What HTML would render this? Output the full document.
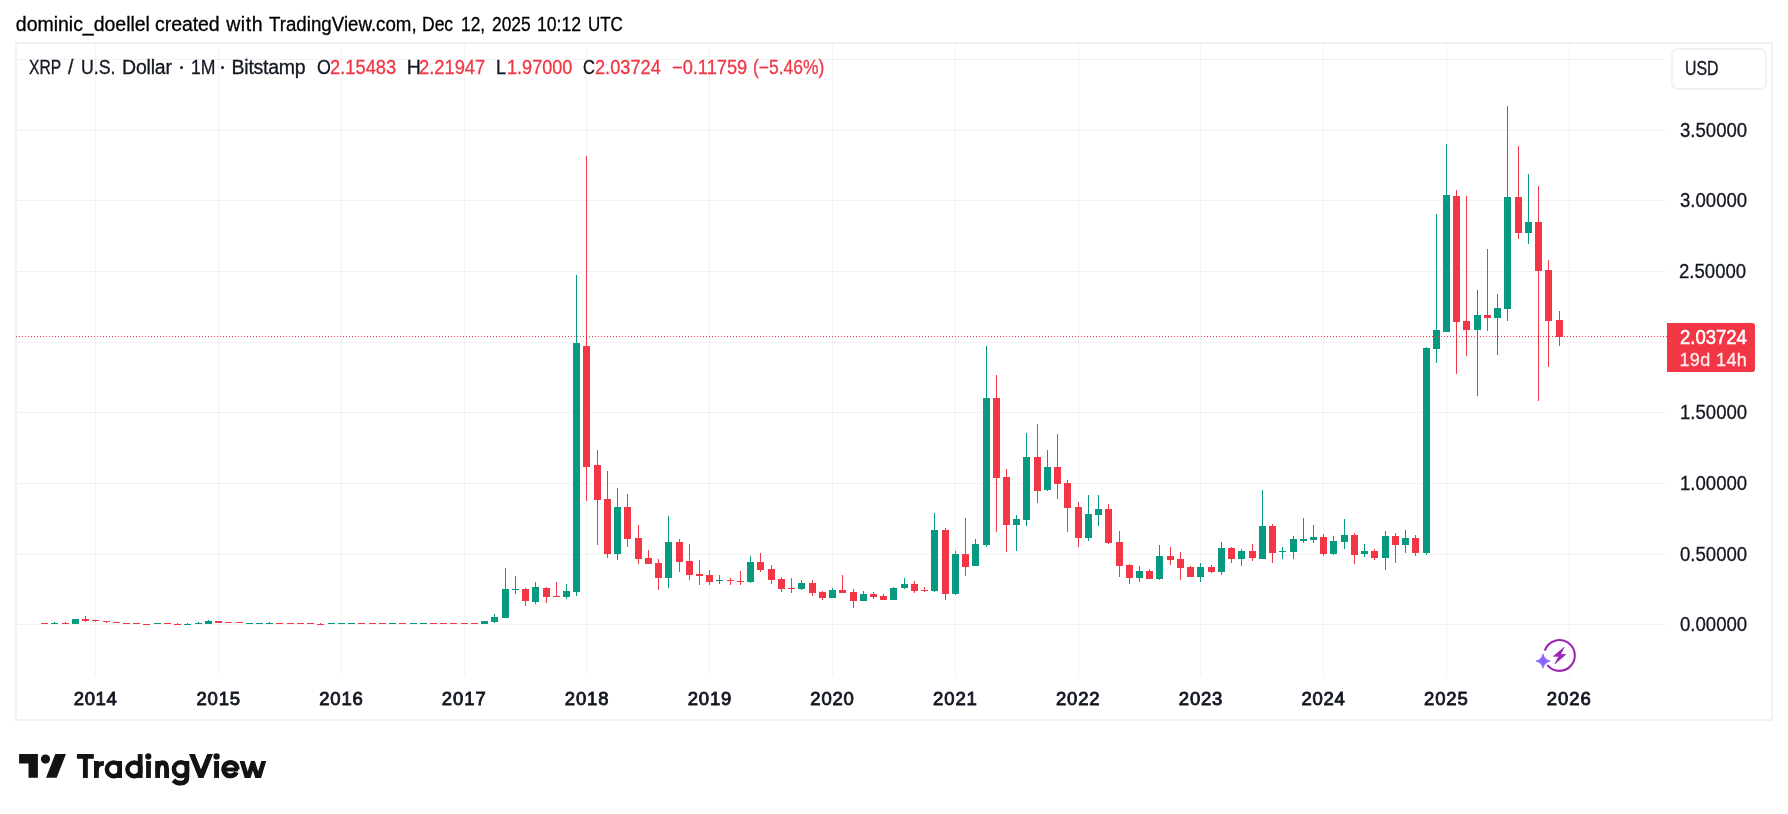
<!DOCTYPE html>
<html><head><meta charset="utf-8"><title>XRP / U.S. Dollar</title>
<style>
html,body{margin:0;padding:0;background:#fff;}
body{width:1788px;height:814px;position:relative;overflow:hidden;font-family:"Liberation Sans",sans-serif;color:#131722;}
.t{position:absolute;white-space:nowrap;line-height:1;font-size:19.5px;transform-origin:0 0;-webkit-text-stroke:0.3px currentColor;}
#txt{position:absolute;left:0;top:0;width:1788px;height:814px;will-change:transform;}
.r{color:#f23645;}
.dot{position:absolute;width:3.3px;height:3.3px;border-radius:50%;background:#131722;}
.b{font-weight:bold;-webkit-text-stroke:0;}
.sb{-webkit-text-stroke:0.85px currentColor;}
.w1{-webkit-text-stroke:0.55px currentColor;}
#frame{position:absolute;left:15px;top:42px;width:1754px;height:675px;border:2px solid #f1f3f3;}
#usd{position:absolute;left:1671px;top:48px;width:92px;height:38px;border:2px solid #f0f3f3;border-radius:7px;background:#fff;}
#plabel{position:absolute;left:1667px;top:323px;width:88px;height:49px;background:#f23645;border-radius:0 3px 3px 0;}
</style></head><body>
<div id="frame"></div>
<svg width="1788" height="814" viewBox="0 0 1788 814" style="position:absolute;left:0;top:0" shape-rendering="crispEdges">
<g id="grid"><rect x="17" y="59" width="1649" height="1" fill="rgba(40,48,50,0.06)"/><rect x="17" y="130" width="1649" height="1" fill="rgba(40,48,50,0.06)"/><rect x="17" y="200" width="1649" height="1" fill="rgba(40,48,50,0.06)"/><rect x="17" y="271" width="1649" height="1" fill="rgba(40,48,50,0.06)"/><rect x="17" y="342" width="1649" height="1" fill="rgba(40,48,50,0.06)"/><rect x="17" y="412" width="1649" height="1" fill="rgba(40,48,50,0.06)"/><rect x="17" y="483" width="1649" height="1" fill="rgba(40,48,50,0.06)"/><rect x="17" y="554" width="1649" height="1" fill="rgba(40,48,50,0.06)"/><rect x="17" y="624" width="1649" height="1" fill="rgba(40,48,50,0.06)"/><rect x="95" y="44" width="1" height="632" fill="rgba(40,48,50,0.06)"/><rect x="218" y="44" width="1" height="632" fill="rgba(40,48,50,0.06)"/><rect x="341" y="44" width="1" height="632" fill="rgba(40,48,50,0.06)"/><rect x="464" y="44" width="1" height="632" fill="rgba(40,48,50,0.06)"/><rect x="586" y="44" width="1" height="632" fill="rgba(40,48,50,0.06)"/><rect x="709" y="44" width="1" height="632" fill="rgba(40,48,50,0.06)"/><rect x="832" y="44" width="1" height="632" fill="rgba(40,48,50,0.06)"/><rect x="955" y="44" width="1" height="632" fill="rgba(40,48,50,0.06)"/><rect x="1078" y="44" width="1" height="632" fill="rgba(40,48,50,0.06)"/><rect x="1200" y="44" width="1" height="632" fill="rgba(40,48,50,0.06)"/><rect x="1323" y="44" width="1" height="632" fill="rgba(40,48,50,0.06)"/><rect x="1446" y="44" width="1" height="632" fill="rgba(40,48,50,0.06)"/><rect x="1569" y="44" width="1" height="632" fill="rgba(40,48,50,0.06)"/></g>
<g id="candles"><rect x="41" y="623" width="7" height="1" fill="#f23645"/><rect x="54" y="622" width="1" height="2" fill="#089981"/><rect x="51" y="623" width="7" height="1" fill="#089981"/><rect x="65" y="622" width="1" height="2" fill="#f23645"/><rect x="62" y="623" width="7" height="1" fill="#f23645"/><rect x="72" y="619" width="7" height="5" fill="#089981"/><rect x="85" y="616" width="1" height="6" fill="#f23645"/><rect x="82" y="619" width="7" height="2" fill="#f23645"/><rect x="95" y="620" width="1" height="2" fill="#f23645"/><rect x="92" y="620" width="7" height="1" fill="#f23645"/><rect x="106" y="621" width="1" height="2" fill="#f23645"/><rect x="103" y="621" width="7" height="1" fill="#f23645"/><rect x="113" y="622" width="7" height="1" fill="#f23645"/><rect x="123" y="623" width="7" height="1" fill="#f23645"/><rect x="133" y="623" width="7" height="1" fill="#f23645"/><rect x="143" y="624" width="7" height="1" fill="#f23645"/><rect x="154" y="623" width="7" height="1" fill="#089981"/><rect x="164" y="623" width="7" height="1" fill="#f23645"/><rect x="177" y="623" width="1" height="2" fill="#f23645"/><rect x="174" y="624" width="7" height="1" fill="#f23645"/><rect x="187" y="623" width="1" height="2" fill="#089981"/><rect x="184" y="624" width="7" height="1" fill="#089981"/><rect x="198" y="622" width="1" height="2" fill="#089981"/><rect x="195" y="623" width="7" height="1" fill="#089981"/><rect x="208" y="620" width="1" height="4" fill="#089981"/><rect x="205" y="621" width="7" height="3" fill="#089981"/><rect x="215" y="621" width="7" height="2" fill="#f23645"/><rect x="225" y="622" width="7" height="1" fill="#f23645"/><rect x="236" y="622" width="7" height="1" fill="#f23645"/><rect x="246" y="623" width="7" height="1" fill="#089981"/><rect x="256" y="623" width="7" height="1" fill="#089981"/><rect x="269" y="622" width="1" height="2" fill="#089981"/><rect x="266" y="623" width="7" height="1" fill="#089981"/><rect x="276" y="623" width="7" height="1" fill="#f23645"/><rect x="287" y="623" width="7" height="1" fill="#f23645"/><rect x="297" y="623" width="7" height="1" fill="#f23645"/><rect x="307" y="623" width="7" height="1" fill="#f23645"/><rect x="320" y="623" width="1" height="2" fill="#f23645"/><rect x="317" y="624" width="7" height="1" fill="#f23645"/><rect x="328" y="623" width="7" height="1" fill="#089981"/><rect x="338" y="623" width="7" height="1" fill="#089981"/><rect x="348" y="623" width="7" height="1" fill="#089981"/><rect x="358" y="623" width="7" height="1" fill="#f23645"/><rect x="369" y="623" width="7" height="1" fill="#f23645"/><rect x="379" y="623" width="7" height="1" fill="#f23645"/><rect x="389" y="623" width="7" height="1" fill="#089981"/><rect x="399" y="623" width="7" height="1" fill="#f23645"/><rect x="410" y="623" width="7" height="1" fill="#089981"/><rect x="420" y="623" width="7" height="1" fill="#089981"/><rect x="430" y="623" width="7" height="1" fill="#f23645"/><rect x="440" y="623" width="7" height="1" fill="#f23645"/><rect x="450" y="623" width="7" height="1" fill="#f23645"/><rect x="461" y="623" width="7" height="1" fill="#f23645"/><rect x="471" y="623" width="7" height="1" fill="#f23645"/><rect x="481" y="621" width="7" height="3" fill="#089981"/><rect x="494" y="614" width="1" height="9" fill="#089981"/><rect x="491" y="617" width="7" height="5" fill="#089981"/><rect x="505" y="568" width="1" height="50" fill="#089981"/><rect x="502" y="589" width="7" height="29" fill="#089981"/><rect x="515" y="576" width="1" height="18" fill="#089981"/><rect x="512" y="589" width="7" height="1" fill="#089981"/><rect x="525" y="588" width="1" height="18" fill="#f23645"/><rect x="522" y="589" width="7" height="12" fill="#f23645"/><rect x="535" y="582" width="1" height="22" fill="#089981"/><rect x="532" y="587" width="7" height="15" fill="#089981"/><rect x="546" y="587" width="1" height="16" fill="#f23645"/><rect x="543" y="588" width="7" height="9" fill="#f23645"/><rect x="556" y="582" width="1" height="15" fill="#f23645"/><rect x="553" y="596" width="7" height="1" fill="#f23645"/><rect x="566" y="584" width="1" height="15" fill="#089981"/><rect x="563" y="591" width="7" height="6" fill="#089981"/><rect x="576" y="275" width="1" height="321" fill="#089981"/><rect x="573" y="343" width="7" height="249" fill="#089981"/><rect x="586" y="156" width="1" height="345" fill="#f23645"/><rect x="583" y="346" width="7" height="121" fill="#f23645"/><rect x="597" y="450" width="1" height="95" fill="#f23645"/><rect x="594" y="465" width="7" height="35" fill="#f23645"/><rect x="607" y="471" width="1" height="87" fill="#f23645"/><rect x="604" y="499" width="7" height="55" fill="#f23645"/><rect x="617" y="488" width="1" height="72" fill="#089981"/><rect x="614" y="507" width="7" height="47" fill="#089981"/><rect x="627" y="494" width="1" height="53" fill="#f23645"/><rect x="624" y="507" width="7" height="32" fill="#f23645"/><rect x="638" y="525" width="1" height="39" fill="#f23645"/><rect x="635" y="538" width="7" height="21" fill="#f23645"/><rect x="648" y="550" width="1" height="14" fill="#f23645"/><rect x="645" y="558" width="7" height="6" fill="#f23645"/><rect x="658" y="559" width="1" height="31" fill="#f23645"/><rect x="655" y="563" width="7" height="15" fill="#f23645"/><rect x="668" y="516" width="1" height="72" fill="#089981"/><rect x="665" y="542" width="7" height="36" fill="#089981"/><rect x="679" y="539" width="1" height="33" fill="#f23645"/><rect x="676" y="542" width="7" height="20" fill="#f23645"/><rect x="689" y="544" width="1" height="36" fill="#f23645"/><rect x="686" y="561" width="7" height="14" fill="#f23645"/><rect x="699" y="560" width="1" height="25" fill="#f23645"/><rect x="696" y="574" width="7" height="2" fill="#f23645"/><rect x="709" y="570" width="1" height="15" fill="#f23645"/><rect x="706" y="575" width="7" height="7" fill="#f23645"/><rect x="719" y="575" width="1" height="9" fill="#089981"/><rect x="716" y="580" width="7" height="1" fill="#089981"/><rect x="730" y="578" width="1" height="7" fill="#f23645"/><rect x="727" y="580" width="7" height="1" fill="#f23645"/><rect x="740" y="571" width="1" height="14" fill="#f23645"/><rect x="737" y="581" width="7" height="1" fill="#f23645"/><rect x="750" y="556" width="1" height="27" fill="#089981"/><rect x="747" y="562" width="7" height="20" fill="#089981"/><rect x="760" y="553" width="1" height="19" fill="#f23645"/><rect x="757" y="562" width="7" height="8" fill="#f23645"/><rect x="771" y="565" width="1" height="19" fill="#f23645"/><rect x="768" y="569" width="7" height="11" fill="#f23645"/><rect x="781" y="577" width="1" height="15" fill="#f23645"/><rect x="778" y="579" width="7" height="10" fill="#f23645"/><rect x="791" y="578" width="1" height="15" fill="#f23645"/><rect x="788" y="588" width="7" height="1" fill="#f23645"/><rect x="801" y="580" width="1" height="10" fill="#089981"/><rect x="798" y="583" width="7" height="6" fill="#089981"/><rect x="812" y="580" width="1" height="16" fill="#f23645"/><rect x="809" y="583" width="7" height="10" fill="#f23645"/><rect x="822" y="591" width="1" height="9" fill="#f23645"/><rect x="819" y="592" width="7" height="6" fill="#f23645"/><rect x="832" y="588" width="1" height="10" fill="#089981"/><rect x="829" y="590" width="7" height="8" fill="#089981"/><rect x="842" y="575" width="1" height="18" fill="#f23645"/><rect x="839" y="590" width="7" height="3" fill="#f23645"/><rect x="853" y="589" width="1" height="19" fill="#f23645"/><rect x="850" y="592" width="7" height="9" fill="#f23645"/><rect x="863" y="591" width="1" height="10" fill="#089981"/><rect x="860" y="594" width="7" height="7" fill="#089981"/><rect x="873" y="592" width="1" height="7" fill="#f23645"/><rect x="870" y="594" width="7" height="3" fill="#f23645"/><rect x="883" y="594" width="1" height="6" fill="#f23645"/><rect x="880" y="596" width="7" height="4" fill="#f23645"/><rect x="893" y="587" width="1" height="13" fill="#089981"/><rect x="890" y="588" width="7" height="12" fill="#089981"/><rect x="904" y="578" width="1" height="11" fill="#089981"/><rect x="901" y="584" width="7" height="4" fill="#089981"/><rect x="914" y="581" width="1" height="12" fill="#f23645"/><rect x="911" y="584" width="7" height="7" fill="#f23645"/><rect x="924" y="587" width="1" height="5" fill="#f23645"/><rect x="921" y="590" width="7" height="1" fill="#f23645"/><rect x="934" y="513" width="1" height="79" fill="#089981"/><rect x="931" y="530" width="7" height="61" fill="#089981"/><rect x="945" y="528" width="1" height="72" fill="#f23645"/><rect x="942" y="530" width="7" height="64" fill="#f23645"/><rect x="955" y="551" width="1" height="44" fill="#089981"/><rect x="952" y="554" width="7" height="40" fill="#089981"/><rect x="965" y="518" width="1" height="58" fill="#f23645"/><rect x="962" y="554" width="7" height="13" fill="#f23645"/><rect x="975" y="539" width="1" height="27" fill="#089981"/><rect x="972" y="544" width="7" height="22" fill="#089981"/><rect x="986" y="346" width="1" height="201" fill="#089981"/><rect x="983" y="398" width="7" height="147" fill="#089981"/><rect x="996" y="375" width="1" height="157" fill="#f23645"/><rect x="993" y="398" width="7" height="80" fill="#f23645"/><rect x="1006" y="469" width="1" height="83" fill="#f23645"/><rect x="1003" y="477" width="7" height="48" fill="#f23645"/><rect x="1016" y="515" width="1" height="36" fill="#089981"/><rect x="1013" y="519" width="7" height="6" fill="#089981"/><rect x="1026" y="433" width="1" height="93" fill="#089981"/><rect x="1023" y="457" width="7" height="63" fill="#089981"/><rect x="1037" y="424" width="1" height="79" fill="#f23645"/><rect x="1034" y="457" width="7" height="34" fill="#f23645"/><rect x="1047" y="450" width="1" height="41" fill="#089981"/><rect x="1044" y="467" width="7" height="23" fill="#089981"/><rect x="1057" y="434" width="1" height="65" fill="#f23645"/><rect x="1054" y="467" width="7" height="17" fill="#f23645"/><rect x="1067" y="480" width="1" height="52" fill="#f23645"/><rect x="1064" y="483" width="7" height="25" fill="#f23645"/><rect x="1078" y="502" width="1" height="45" fill="#f23645"/><rect x="1075" y="507" width="7" height="31" fill="#f23645"/><rect x="1088" y="495" width="1" height="46" fill="#089981"/><rect x="1085" y="514" width="7" height="24" fill="#089981"/><rect x="1098" y="495" width="1" height="31" fill="#089981"/><rect x="1095" y="509" width="7" height="6" fill="#089981"/><rect x="1108" y="504" width="1" height="40" fill="#f23645"/><rect x="1105" y="509" width="7" height="34" fill="#f23645"/><rect x="1119" y="531" width="1" height="46" fill="#f23645"/><rect x="1116" y="542" width="7" height="24" fill="#f23645"/><rect x="1129" y="564" width="1" height="20" fill="#f23645"/><rect x="1126" y="565" width="7" height="13" fill="#f23645"/><rect x="1139" y="566" width="1" height="16" fill="#089981"/><rect x="1136" y="571" width="7" height="7" fill="#089981"/><rect x="1149" y="569" width="1" height="10" fill="#f23645"/><rect x="1146" y="571" width="7" height="8" fill="#f23645"/><rect x="1159" y="545" width="1" height="35" fill="#089981"/><rect x="1156" y="556" width="7" height="23" fill="#089981"/><rect x="1170" y="547" width="1" height="18" fill="#f23645"/><rect x="1167" y="556" width="7" height="4" fill="#f23645"/><rect x="1180" y="552" width="1" height="28" fill="#f23645"/><rect x="1177" y="559" width="7" height="9" fill="#f23645"/><rect x="1190" y="566" width="1" height="11" fill="#f23645"/><rect x="1187" y="567" width="7" height="10" fill="#f23645"/><rect x="1200" y="563" width="1" height="19" fill="#089981"/><rect x="1197" y="567" width="7" height="10" fill="#089981"/><rect x="1211" y="565" width="1" height="8" fill="#f23645"/><rect x="1208" y="567" width="7" height="5" fill="#f23645"/><rect x="1221" y="542" width="1" height="33" fill="#089981"/><rect x="1218" y="548" width="7" height="24" fill="#089981"/><rect x="1231" y="547" width="1" height="16" fill="#f23645"/><rect x="1228" y="548" width="7" height="11" fill="#f23645"/><rect x="1241" y="549" width="1" height="17" fill="#089981"/><rect x="1238" y="551" width="7" height="8" fill="#089981"/><rect x="1252" y="544" width="1" height="17" fill="#f23645"/><rect x="1249" y="551" width="7" height="7" fill="#f23645"/><rect x="1262" y="490" width="1" height="69" fill="#089981"/><rect x="1259" y="526" width="7" height="33" fill="#089981"/><rect x="1272" y="524" width="1" height="39" fill="#f23645"/><rect x="1269" y="526" width="7" height="27" fill="#f23645"/><rect x="1282" y="547" width="1" height="12" fill="#089981"/><rect x="1279" y="551" width="7" height="1" fill="#089981"/><rect x="1293" y="536" width="1" height="23" fill="#089981"/><rect x="1290" y="539" width="7" height="13" fill="#089981"/><rect x="1303" y="518" width="1" height="25" fill="#089981"/><rect x="1300" y="539" width="7" height="2" fill="#089981"/><rect x="1313" y="525" width="1" height="18" fill="#089981"/><rect x="1310" y="537" width="7" height="3" fill="#089981"/><rect x="1323" y="534" width="1" height="22" fill="#f23645"/><rect x="1320" y="537" width="7" height="17" fill="#f23645"/><rect x="1333" y="536" width="1" height="19" fill="#089981"/><rect x="1330" y="541" width="7" height="13" fill="#089981"/><rect x="1344" y="519" width="1" height="30" fill="#089981"/><rect x="1341" y="535" width="7" height="7" fill="#089981"/><rect x="1354" y="533" width="1" height="31" fill="#f23645"/><rect x="1351" y="535" width="7" height="20" fill="#f23645"/><rect x="1364" y="544" width="1" height="13" fill="#089981"/><rect x="1361" y="551" width="7" height="3" fill="#089981"/><rect x="1374" y="549" width="1" height="11" fill="#f23645"/><rect x="1371" y="551" width="7" height="7" fill="#f23645"/><rect x="1385" y="531" width="1" height="39" fill="#089981"/><rect x="1382" y="536" width="7" height="22" fill="#089981"/><rect x="1395" y="533" width="1" height="30" fill="#f23645"/><rect x="1392" y="536" width="7" height="9" fill="#f23645"/><rect x="1405" y="530" width="1" height="23" fill="#089981"/><rect x="1402" y="538" width="7" height="7" fill="#089981"/><rect x="1415" y="535" width="1" height="21" fill="#f23645"/><rect x="1412" y="538" width="7" height="15" fill="#f23645"/><rect x="1426" y="347" width="1" height="208" fill="#089981"/><rect x="1423" y="348" width="7" height="205" fill="#089981"/><rect x="1436" y="214" width="1" height="149" fill="#089981"/><rect x="1433" y="330" width="7" height="19" fill="#089981"/><rect x="1446" y="144" width="1" height="188" fill="#089981"/><rect x="1443" y="195" width="7" height="137" fill="#089981"/><rect x="1456" y="190" width="1" height="184" fill="#f23645"/><rect x="1453" y="196" width="7" height="126" fill="#f23645"/><rect x="1466" y="196" width="1" height="160" fill="#f23645"/><rect x="1463" y="321" width="7" height="9" fill="#f23645"/><rect x="1477" y="290" width="1" height="106" fill="#089981"/><rect x="1474" y="315" width="7" height="15" fill="#089981"/><rect x="1487" y="249" width="1" height="82" fill="#f23645"/><rect x="1484" y="315" width="7" height="3" fill="#f23645"/><rect x="1497" y="294" width="1" height="61" fill="#089981"/><rect x="1494" y="308" width="7" height="10" fill="#089981"/><rect x="1507" y="106" width="1" height="215" fill="#089981"/><rect x="1504" y="197" width="7" height="112" fill="#089981"/><rect x="1518" y="146" width="1" height="93" fill="#f23645"/><rect x="1515" y="197" width="7" height="36" fill="#f23645"/><rect x="1528" y="174" width="1" height="70" fill="#089981"/><rect x="1525" y="222" width="7" height="11" fill="#089981"/><rect x="1538" y="186" width="1" height="215" fill="#f23645"/><rect x="1535" y="222" width="7" height="49" fill="#f23645"/><rect x="1548" y="260" width="1" height="107" fill="#f23645"/><rect x="1545" y="270" width="7" height="51" fill="#f23645"/><rect x="1559" y="311" width="1" height="35" fill="#f23645"/><rect x="1556" y="320" width="7" height="17" fill="#f23645"/></g>
<g id="pline"><rect x="16" y="336" width="1" height="1" fill="#f23645"/><rect x="19" y="336" width="1" height="1" fill="#f23645"/><rect x="22" y="336" width="1" height="1" fill="#f23645"/><rect x="25" y="336" width="1" height="1" fill="#f23645"/><rect x="28" y="336" width="1" height="1" fill="#f23645"/><rect x="31" y="336" width="1" height="1" fill="#f23645"/><rect x="34" y="336" width="1" height="1" fill="#f23645"/><rect x="37" y="336" width="1" height="1" fill="#f23645"/><rect x="40" y="336" width="1" height="1" fill="#f23645"/><rect x="43" y="336" width="1" height="1" fill="#f23645"/><rect x="46" y="336" width="1" height="1" fill="#f23645"/><rect x="49" y="336" width="1" height="1" fill="#f23645"/><rect x="52" y="336" width="1" height="1" fill="#f23645"/><rect x="55" y="336" width="1" height="1" fill="#f23645"/><rect x="58" y="336" width="1" height="1" fill="#f23645"/><rect x="61" y="336" width="1" height="1" fill="#f23645"/><rect x="64" y="336" width="1" height="1" fill="#f23645"/><rect x="67" y="336" width="1" height="1" fill="#f23645"/><rect x="70" y="336" width="1" height="1" fill="#f23645"/><rect x="73" y="336" width="1" height="1" fill="#f23645"/><rect x="76" y="336" width="1" height="1" fill="#f23645"/><rect x="79" y="336" width="1" height="1" fill="#f23645"/><rect x="82" y="336" width="1" height="1" fill="#f23645"/><rect x="85" y="336" width="1" height="1" fill="#f23645"/><rect x="88" y="336" width="1" height="1" fill="#f23645"/><rect x="91" y="336" width="1" height="1" fill="#f23645"/><rect x="94" y="336" width="1" height="1" fill="#f23645"/><rect x="97" y="336" width="1" height="1" fill="#f23645"/><rect x="100" y="336" width="1" height="1" fill="#f23645"/><rect x="103" y="336" width="1" height="1" fill="#f23645"/><rect x="106" y="336" width="1" height="1" fill="#f23645"/><rect x="109" y="336" width="1" height="1" fill="#f23645"/><rect x="112" y="336" width="1" height="1" fill="#f23645"/><rect x="115" y="336" width="1" height="1" fill="#f23645"/><rect x="118" y="336" width="1" height="1" fill="#f23645"/><rect x="121" y="336" width="1" height="1" fill="#f23645"/><rect x="124" y="336" width="1" height="1" fill="#f23645"/><rect x="127" y="336" width="1" height="1" fill="#f23645"/><rect x="130" y="336" width="1" height="1" fill="#f23645"/><rect x="133" y="336" width="1" height="1" fill="#f23645"/><rect x="136" y="336" width="1" height="1" fill="#f23645"/><rect x="139" y="336" width="1" height="1" fill="#f23645"/><rect x="142" y="336" width="1" height="1" fill="#f23645"/><rect x="145" y="336" width="1" height="1" fill="#f23645"/><rect x="148" y="336" width="1" height="1" fill="#f23645"/><rect x="151" y="336" width="1" height="1" fill="#f23645"/><rect x="154" y="336" width="1" height="1" fill="#f23645"/><rect x="157" y="336" width="1" height="1" fill="#f23645"/><rect x="160" y="336" width="1" height="1" fill="#f23645"/><rect x="163" y="336" width="1" height="1" fill="#f23645"/><rect x="166" y="336" width="1" height="1" fill="#f23645"/><rect x="169" y="336" width="1" height="1" fill="#f23645"/><rect x="172" y="336" width="1" height="1" fill="#f23645"/><rect x="175" y="336" width="1" height="1" fill="#f23645"/><rect x="178" y="336" width="1" height="1" fill="#f23645"/><rect x="181" y="336" width="1" height="1" fill="#f23645"/><rect x="184" y="336" width="1" height="1" fill="#f23645"/><rect x="187" y="336" width="1" height="1" fill="#f23645"/><rect x="190" y="336" width="1" height="1" fill="#f23645"/><rect x="193" y="336" width="1" height="1" fill="#f23645"/><rect x="196" y="336" width="1" height="1" fill="#f23645"/><rect x="199" y="336" width="1" height="1" fill="#f23645"/><rect x="202" y="336" width="1" height="1" fill="#f23645"/><rect x="205" y="336" width="1" height="1" fill="#f23645"/><rect x="208" y="336" width="1" height="1" fill="#f23645"/><rect x="211" y="336" width="1" height="1" fill="#f23645"/><rect x="214" y="336" width="1" height="1" fill="#f23645"/><rect x="217" y="336" width="1" height="1" fill="#f23645"/><rect x="220" y="336" width="1" height="1" fill="#f23645"/><rect x="223" y="336" width="1" height="1" fill="#f23645"/><rect x="226" y="336" width="1" height="1" fill="#f23645"/><rect x="229" y="336" width="1" height="1" fill="#f23645"/><rect x="232" y="336" width="1" height="1" fill="#f23645"/><rect x="235" y="336" width="1" height="1" fill="#f23645"/><rect x="238" y="336" width="1" height="1" fill="#f23645"/><rect x="241" y="336" width="1" height="1" fill="#f23645"/><rect x="244" y="336" width="1" height="1" fill="#f23645"/><rect x="247" y="336" width="1" height="1" fill="#f23645"/><rect x="250" y="336" width="1" height="1" fill="#f23645"/><rect x="253" y="336" width="1" height="1" fill="#f23645"/><rect x="256" y="336" width="1" height="1" fill="#f23645"/><rect x="259" y="336" width="1" height="1" fill="#f23645"/><rect x="262" y="336" width="1" height="1" fill="#f23645"/><rect x="265" y="336" width="1" height="1" fill="#f23645"/><rect x="268" y="336" width="1" height="1" fill="#f23645"/><rect x="271" y="336" width="1" height="1" fill="#f23645"/><rect x="274" y="336" width="1" height="1" fill="#f23645"/><rect x="277" y="336" width="1" height="1" fill="#f23645"/><rect x="280" y="336" width="1" height="1" fill="#f23645"/><rect x="283" y="336" width="1" height="1" fill="#f23645"/><rect x="286" y="336" width="1" height="1" fill="#f23645"/><rect x="289" y="336" width="1" height="1" fill="#f23645"/><rect x="292" y="336" width="1" height="1" fill="#f23645"/><rect x="295" y="336" width="1" height="1" fill="#f23645"/><rect x="298" y="336" width="1" height="1" fill="#f23645"/><rect x="301" y="336" width="1" height="1" fill="#f23645"/><rect x="304" y="336" width="1" height="1" fill="#f23645"/><rect x="307" y="336" width="1" height="1" fill="#f23645"/><rect x="310" y="336" width="1" height="1" fill="#f23645"/><rect x="313" y="336" width="1" height="1" fill="#f23645"/><rect x="316" y="336" width="1" height="1" fill="#f23645"/><rect x="319" y="336" width="1" height="1" fill="#f23645"/><rect x="322" y="336" width="1" height="1" fill="#f23645"/><rect x="325" y="336" width="1" height="1" fill="#f23645"/><rect x="328" y="336" width="1" height="1" fill="#f23645"/><rect x="331" y="336" width="1" height="1" fill="#f23645"/><rect x="334" y="336" width="1" height="1" fill="#f23645"/><rect x="337" y="336" width="1" height="1" fill="#f23645"/><rect x="340" y="336" width="1" height="1" fill="#f23645"/><rect x="343" y="336" width="1" height="1" fill="#f23645"/><rect x="346" y="336" width="1" height="1" fill="#f23645"/><rect x="349" y="336" width="1" height="1" fill="#f23645"/><rect x="352" y="336" width="1" height="1" fill="#f23645"/><rect x="355" y="336" width="1" height="1" fill="#f23645"/><rect x="358" y="336" width="1" height="1" fill="#f23645"/><rect x="361" y="336" width="1" height="1" fill="#f23645"/><rect x="364" y="336" width="1" height="1" fill="#f23645"/><rect x="367" y="336" width="1" height="1" fill="#f23645"/><rect x="370" y="336" width="1" height="1" fill="#f23645"/><rect x="373" y="336" width="1" height="1" fill="#f23645"/><rect x="376" y="336" width="1" height="1" fill="#f23645"/><rect x="379" y="336" width="1" height="1" fill="#f23645"/><rect x="382" y="336" width="1" height="1" fill="#f23645"/><rect x="385" y="336" width="1" height="1" fill="#f23645"/><rect x="388" y="336" width="1" height="1" fill="#f23645"/><rect x="391" y="336" width="1" height="1" fill="#f23645"/><rect x="394" y="336" width="1" height="1" fill="#f23645"/><rect x="397" y="336" width="1" height="1" fill="#f23645"/><rect x="400" y="336" width="1" height="1" fill="#f23645"/><rect x="403" y="336" width="1" height="1" fill="#f23645"/><rect x="406" y="336" width="1" height="1" fill="#f23645"/><rect x="409" y="336" width="1" height="1" fill="#f23645"/><rect x="412" y="336" width="1" height="1" fill="#f23645"/><rect x="415" y="336" width="1" height="1" fill="#f23645"/><rect x="418" y="336" width="1" height="1" fill="#f23645"/><rect x="421" y="336" width="1" height="1" fill="#f23645"/><rect x="424" y="336" width="1" height="1" fill="#f23645"/><rect x="427" y="336" width="1" height="1" fill="#f23645"/><rect x="430" y="336" width="1" height="1" fill="#f23645"/><rect x="433" y="336" width="1" height="1" fill="#f23645"/><rect x="436" y="336" width="1" height="1" fill="#f23645"/><rect x="439" y="336" width="1" height="1" fill="#f23645"/><rect x="442" y="336" width="1" height="1" fill="#f23645"/><rect x="445" y="336" width="1" height="1" fill="#f23645"/><rect x="448" y="336" width="1" height="1" fill="#f23645"/><rect x="451" y="336" width="1" height="1" fill="#f23645"/><rect x="454" y="336" width="1" height="1" fill="#f23645"/><rect x="457" y="336" width="1" height="1" fill="#f23645"/><rect x="460" y="336" width="1" height="1" fill="#f23645"/><rect x="463" y="336" width="1" height="1" fill="#f23645"/><rect x="466" y="336" width="1" height="1" fill="#f23645"/><rect x="469" y="336" width="1" height="1" fill="#f23645"/><rect x="472" y="336" width="1" height="1" fill="#f23645"/><rect x="475" y="336" width="1" height="1" fill="#f23645"/><rect x="478" y="336" width="1" height="1" fill="#f23645"/><rect x="481" y="336" width="1" height="1" fill="#f23645"/><rect x="484" y="336" width="1" height="1" fill="#f23645"/><rect x="487" y="336" width="1" height="1" fill="#f23645"/><rect x="490" y="336" width="1" height="1" fill="#f23645"/><rect x="493" y="336" width="1" height="1" fill="#f23645"/><rect x="496" y="336" width="1" height="1" fill="#f23645"/><rect x="499" y="336" width="1" height="1" fill="#f23645"/><rect x="502" y="336" width="1" height="1" fill="#f23645"/><rect x="505" y="336" width="1" height="1" fill="#f23645"/><rect x="508" y="336" width="1" height="1" fill="#f23645"/><rect x="511" y="336" width="1" height="1" fill="#f23645"/><rect x="514" y="336" width="1" height="1" fill="#f23645"/><rect x="517" y="336" width="1" height="1" fill="#f23645"/><rect x="520" y="336" width="1" height="1" fill="#f23645"/><rect x="523" y="336" width="1" height="1" fill="#f23645"/><rect x="526" y="336" width="1" height="1" fill="#f23645"/><rect x="529" y="336" width="1" height="1" fill="#f23645"/><rect x="532" y="336" width="1" height="1" fill="#f23645"/><rect x="535" y="336" width="1" height="1" fill="#f23645"/><rect x="538" y="336" width="1" height="1" fill="#f23645"/><rect x="541" y="336" width="1" height="1" fill="#f23645"/><rect x="544" y="336" width="1" height="1" fill="#f23645"/><rect x="547" y="336" width="1" height="1" fill="#f23645"/><rect x="550" y="336" width="1" height="1" fill="#f23645"/><rect x="553" y="336" width="1" height="1" fill="#f23645"/><rect x="556" y="336" width="1" height="1" fill="#f23645"/><rect x="559" y="336" width="1" height="1" fill="#f23645"/><rect x="562" y="336" width="1" height="1" fill="#f23645"/><rect x="565" y="336" width="1" height="1" fill="#f23645"/><rect x="568" y="336" width="1" height="1" fill="#f23645"/><rect x="571" y="336" width="1" height="1" fill="#f23645"/><rect x="574" y="336" width="1" height="1" fill="#f23645"/><rect x="577" y="336" width="1" height="1" fill="#f23645"/><rect x="580" y="336" width="1" height="1" fill="#f23645"/><rect x="583" y="336" width="1" height="1" fill="#f23645"/><rect x="586" y="336" width="1" height="1" fill="#f23645"/><rect x="589" y="336" width="1" height="1" fill="#f23645"/><rect x="592" y="336" width="1" height="1" fill="#f23645"/><rect x="595" y="336" width="1" height="1" fill="#f23645"/><rect x="598" y="336" width="1" height="1" fill="#f23645"/><rect x="601" y="336" width="1" height="1" fill="#f23645"/><rect x="604" y="336" width="1" height="1" fill="#f23645"/><rect x="607" y="336" width="1" height="1" fill="#f23645"/><rect x="610" y="336" width="1" height="1" fill="#f23645"/><rect x="613" y="336" width="1" height="1" fill="#f23645"/><rect x="616" y="336" width="1" height="1" fill="#f23645"/><rect x="619" y="336" width="1" height="1" fill="#f23645"/><rect x="622" y="336" width="1" height="1" fill="#f23645"/><rect x="625" y="336" width="1" height="1" fill="#f23645"/><rect x="628" y="336" width="1" height="1" fill="#f23645"/><rect x="631" y="336" width="1" height="1" fill="#f23645"/><rect x="634" y="336" width="1" height="1" fill="#f23645"/><rect x="637" y="336" width="1" height="1" fill="#f23645"/><rect x="640" y="336" width="1" height="1" fill="#f23645"/><rect x="643" y="336" width="1" height="1" fill="#f23645"/><rect x="646" y="336" width="1" height="1" fill="#f23645"/><rect x="649" y="336" width="1" height="1" fill="#f23645"/><rect x="652" y="336" width="1" height="1" fill="#f23645"/><rect x="655" y="336" width="1" height="1" fill="#f23645"/><rect x="658" y="336" width="1" height="1" fill="#f23645"/><rect x="661" y="336" width="1" height="1" fill="#f23645"/><rect x="664" y="336" width="1" height="1" fill="#f23645"/><rect x="667" y="336" width="1" height="1" fill="#f23645"/><rect x="670" y="336" width="1" height="1" fill="#f23645"/><rect x="673" y="336" width="1" height="1" fill="#f23645"/><rect x="676" y="336" width="1" height="1" fill="#f23645"/><rect x="679" y="336" width="1" height="1" fill="#f23645"/><rect x="682" y="336" width="1" height="1" fill="#f23645"/><rect x="685" y="336" width="1" height="1" fill="#f23645"/><rect x="688" y="336" width="1" height="1" fill="#f23645"/><rect x="691" y="336" width="1" height="1" fill="#f23645"/><rect x="694" y="336" width="1" height="1" fill="#f23645"/><rect x="697" y="336" width="1" height="1" fill="#f23645"/><rect x="700" y="336" width="1" height="1" fill="#f23645"/><rect x="703" y="336" width="1" height="1" fill="#f23645"/><rect x="706" y="336" width="1" height="1" fill="#f23645"/><rect x="709" y="336" width="1" height="1" fill="#f23645"/><rect x="712" y="336" width="1" height="1" fill="#f23645"/><rect x="715" y="336" width="1" height="1" fill="#f23645"/><rect x="718" y="336" width="1" height="1" fill="#f23645"/><rect x="721" y="336" width="1" height="1" fill="#f23645"/><rect x="724" y="336" width="1" height="1" fill="#f23645"/><rect x="727" y="336" width="1" height="1" fill="#f23645"/><rect x="730" y="336" width="1" height="1" fill="#f23645"/><rect x="733" y="336" width="1" height="1" fill="#f23645"/><rect x="736" y="336" width="1" height="1" fill="#f23645"/><rect x="739" y="336" width="1" height="1" fill="#f23645"/><rect x="742" y="336" width="1" height="1" fill="#f23645"/><rect x="745" y="336" width="1" height="1" fill="#f23645"/><rect x="748" y="336" width="1" height="1" fill="#f23645"/><rect x="751" y="336" width="1" height="1" fill="#f23645"/><rect x="754" y="336" width="1" height="1" fill="#f23645"/><rect x="757" y="336" width="1" height="1" fill="#f23645"/><rect x="760" y="336" width="1" height="1" fill="#f23645"/><rect x="763" y="336" width="1" height="1" fill="#f23645"/><rect x="766" y="336" width="1" height="1" fill="#f23645"/><rect x="769" y="336" width="1" height="1" fill="#f23645"/><rect x="772" y="336" width="1" height="1" fill="#f23645"/><rect x="775" y="336" width="1" height="1" fill="#f23645"/><rect x="778" y="336" width="1" height="1" fill="#f23645"/><rect x="781" y="336" width="1" height="1" fill="#f23645"/><rect x="784" y="336" width="1" height="1" fill="#f23645"/><rect x="787" y="336" width="1" height="1" fill="#f23645"/><rect x="790" y="336" width="1" height="1" fill="#f23645"/><rect x="793" y="336" width="1" height="1" fill="#f23645"/><rect x="796" y="336" width="1" height="1" fill="#f23645"/><rect x="799" y="336" width="1" height="1" fill="#f23645"/><rect x="802" y="336" width="1" height="1" fill="#f23645"/><rect x="805" y="336" width="1" height="1" fill="#f23645"/><rect x="808" y="336" width="1" height="1" fill="#f23645"/><rect x="811" y="336" width="1" height="1" fill="#f23645"/><rect x="814" y="336" width="1" height="1" fill="#f23645"/><rect x="817" y="336" width="1" height="1" fill="#f23645"/><rect x="820" y="336" width="1" height="1" fill="#f23645"/><rect x="823" y="336" width="1" height="1" fill="#f23645"/><rect x="826" y="336" width="1" height="1" fill="#f23645"/><rect x="829" y="336" width="1" height="1" fill="#f23645"/><rect x="832" y="336" width="1" height="1" fill="#f23645"/><rect x="835" y="336" width="1" height="1" fill="#f23645"/><rect x="838" y="336" width="1" height="1" fill="#f23645"/><rect x="841" y="336" width="1" height="1" fill="#f23645"/><rect x="844" y="336" width="1" height="1" fill="#f23645"/><rect x="847" y="336" width="1" height="1" fill="#f23645"/><rect x="850" y="336" width="1" height="1" fill="#f23645"/><rect x="853" y="336" width="1" height="1" fill="#f23645"/><rect x="856" y="336" width="1" height="1" fill="#f23645"/><rect x="859" y="336" width="1" height="1" fill="#f23645"/><rect x="862" y="336" width="1" height="1" fill="#f23645"/><rect x="865" y="336" width="1" height="1" fill="#f23645"/><rect x="868" y="336" width="1" height="1" fill="#f23645"/><rect x="871" y="336" width="1" height="1" fill="#f23645"/><rect x="874" y="336" width="1" height="1" fill="#f23645"/><rect x="877" y="336" width="1" height="1" fill="#f23645"/><rect x="880" y="336" width="1" height="1" fill="#f23645"/><rect x="883" y="336" width="1" height="1" fill="#f23645"/><rect x="886" y="336" width="1" height="1" fill="#f23645"/><rect x="889" y="336" width="1" height="1" fill="#f23645"/><rect x="892" y="336" width="1" height="1" fill="#f23645"/><rect x="895" y="336" width="1" height="1" fill="#f23645"/><rect x="898" y="336" width="1" height="1" fill="#f23645"/><rect x="901" y="336" width="1" height="1" fill="#f23645"/><rect x="904" y="336" width="1" height="1" fill="#f23645"/><rect x="907" y="336" width="1" height="1" fill="#f23645"/><rect x="910" y="336" width="1" height="1" fill="#f23645"/><rect x="913" y="336" width="1" height="1" fill="#f23645"/><rect x="916" y="336" width="1" height="1" fill="#f23645"/><rect x="919" y="336" width="1" height="1" fill="#f23645"/><rect x="922" y="336" width="1" height="1" fill="#f23645"/><rect x="925" y="336" width="1" height="1" fill="#f23645"/><rect x="928" y="336" width="1" height="1" fill="#f23645"/><rect x="931" y="336" width="1" height="1" fill="#f23645"/><rect x="934" y="336" width="1" height="1" fill="#f23645"/><rect x="937" y="336" width="1" height="1" fill="#f23645"/><rect x="940" y="336" width="1" height="1" fill="#f23645"/><rect x="943" y="336" width="1" height="1" fill="#f23645"/><rect x="946" y="336" width="1" height="1" fill="#f23645"/><rect x="949" y="336" width="1" height="1" fill="#f23645"/><rect x="952" y="336" width="1" height="1" fill="#f23645"/><rect x="955" y="336" width="1" height="1" fill="#f23645"/><rect x="958" y="336" width="1" height="1" fill="#f23645"/><rect x="961" y="336" width="1" height="1" fill="#f23645"/><rect x="964" y="336" width="1" height="1" fill="#f23645"/><rect x="967" y="336" width="1" height="1" fill="#f23645"/><rect x="970" y="336" width="1" height="1" fill="#f23645"/><rect x="973" y="336" width="1" height="1" fill="#f23645"/><rect x="976" y="336" width="1" height="1" fill="#f23645"/><rect x="979" y="336" width="1" height="1" fill="#f23645"/><rect x="982" y="336" width="1" height="1" fill="#f23645"/><rect x="985" y="336" width="1" height="1" fill="#f23645"/><rect x="988" y="336" width="1" height="1" fill="#f23645"/><rect x="991" y="336" width="1" height="1" fill="#f23645"/><rect x="994" y="336" width="1" height="1" fill="#f23645"/><rect x="997" y="336" width="1" height="1" fill="#f23645"/><rect x="1000" y="336" width="1" height="1" fill="#f23645"/><rect x="1003" y="336" width="1" height="1" fill="#f23645"/><rect x="1006" y="336" width="1" height="1" fill="#f23645"/><rect x="1009" y="336" width="1" height="1" fill="#f23645"/><rect x="1012" y="336" width="1" height="1" fill="#f23645"/><rect x="1015" y="336" width="1" height="1" fill="#f23645"/><rect x="1018" y="336" width="1" height="1" fill="#f23645"/><rect x="1021" y="336" width="1" height="1" fill="#f23645"/><rect x="1024" y="336" width="1" height="1" fill="#f23645"/><rect x="1027" y="336" width="1" height="1" fill="#f23645"/><rect x="1030" y="336" width="1" height="1" fill="#f23645"/><rect x="1033" y="336" width="1" height="1" fill="#f23645"/><rect x="1036" y="336" width="1" height="1" fill="#f23645"/><rect x="1039" y="336" width="1" height="1" fill="#f23645"/><rect x="1042" y="336" width="1" height="1" fill="#f23645"/><rect x="1045" y="336" width="1" height="1" fill="#f23645"/><rect x="1048" y="336" width="1" height="1" fill="#f23645"/><rect x="1051" y="336" width="1" height="1" fill="#f23645"/><rect x="1054" y="336" width="1" height="1" fill="#f23645"/><rect x="1057" y="336" width="1" height="1" fill="#f23645"/><rect x="1060" y="336" width="1" height="1" fill="#f23645"/><rect x="1063" y="336" width="1" height="1" fill="#f23645"/><rect x="1066" y="336" width="1" height="1" fill="#f23645"/><rect x="1069" y="336" width="1" height="1" fill="#f23645"/><rect x="1072" y="336" width="1" height="1" fill="#f23645"/><rect x="1075" y="336" width="1" height="1" fill="#f23645"/><rect x="1078" y="336" width="1" height="1" fill="#f23645"/><rect x="1081" y="336" width="1" height="1" fill="#f23645"/><rect x="1084" y="336" width="1" height="1" fill="#f23645"/><rect x="1087" y="336" width="1" height="1" fill="#f23645"/><rect x="1090" y="336" width="1" height="1" fill="#f23645"/><rect x="1093" y="336" width="1" height="1" fill="#f23645"/><rect x="1096" y="336" width="1" height="1" fill="#f23645"/><rect x="1099" y="336" width="1" height="1" fill="#f23645"/><rect x="1102" y="336" width="1" height="1" fill="#f23645"/><rect x="1105" y="336" width="1" height="1" fill="#f23645"/><rect x="1108" y="336" width="1" height="1" fill="#f23645"/><rect x="1111" y="336" width="1" height="1" fill="#f23645"/><rect x="1114" y="336" width="1" height="1" fill="#f23645"/><rect x="1117" y="336" width="1" height="1" fill="#f23645"/><rect x="1120" y="336" width="1" height="1" fill="#f23645"/><rect x="1123" y="336" width="1" height="1" fill="#f23645"/><rect x="1126" y="336" width="1" height="1" fill="#f23645"/><rect x="1129" y="336" width="1" height="1" fill="#f23645"/><rect x="1132" y="336" width="1" height="1" fill="#f23645"/><rect x="1135" y="336" width="1" height="1" fill="#f23645"/><rect x="1138" y="336" width="1" height="1" fill="#f23645"/><rect x="1141" y="336" width="1" height="1" fill="#f23645"/><rect x="1144" y="336" width="1" height="1" fill="#f23645"/><rect x="1147" y="336" width="1" height="1" fill="#f23645"/><rect x="1150" y="336" width="1" height="1" fill="#f23645"/><rect x="1153" y="336" width="1" height="1" fill="#f23645"/><rect x="1156" y="336" width="1" height="1" fill="#f23645"/><rect x="1159" y="336" width="1" height="1" fill="#f23645"/><rect x="1162" y="336" width="1" height="1" fill="#f23645"/><rect x="1165" y="336" width="1" height="1" fill="#f23645"/><rect x="1168" y="336" width="1" height="1" fill="#f23645"/><rect x="1171" y="336" width="1" height="1" fill="#f23645"/><rect x="1174" y="336" width="1" height="1" fill="#f23645"/><rect x="1177" y="336" width="1" height="1" fill="#f23645"/><rect x="1180" y="336" width="1" height="1" fill="#f23645"/><rect x="1183" y="336" width="1" height="1" fill="#f23645"/><rect x="1186" y="336" width="1" height="1" fill="#f23645"/><rect x="1189" y="336" width="1" height="1" fill="#f23645"/><rect x="1192" y="336" width="1" height="1" fill="#f23645"/><rect x="1195" y="336" width="1" height="1" fill="#f23645"/><rect x="1198" y="336" width="1" height="1" fill="#f23645"/><rect x="1201" y="336" width="1" height="1" fill="#f23645"/><rect x="1204" y="336" width="1" height="1" fill="#f23645"/><rect x="1207" y="336" width="1" height="1" fill="#f23645"/><rect x="1210" y="336" width="1" height="1" fill="#f23645"/><rect x="1213" y="336" width="1" height="1" fill="#f23645"/><rect x="1216" y="336" width="1" height="1" fill="#f23645"/><rect x="1219" y="336" width="1" height="1" fill="#f23645"/><rect x="1222" y="336" width="1" height="1" fill="#f23645"/><rect x="1225" y="336" width="1" height="1" fill="#f23645"/><rect x="1228" y="336" width="1" height="1" fill="#f23645"/><rect x="1231" y="336" width="1" height="1" fill="#f23645"/><rect x="1234" y="336" width="1" height="1" fill="#f23645"/><rect x="1237" y="336" width="1" height="1" fill="#f23645"/><rect x="1240" y="336" width="1" height="1" fill="#f23645"/><rect x="1243" y="336" width="1" height="1" fill="#f23645"/><rect x="1246" y="336" width="1" height="1" fill="#f23645"/><rect x="1249" y="336" width="1" height="1" fill="#f23645"/><rect x="1252" y="336" width="1" height="1" fill="#f23645"/><rect x="1255" y="336" width="1" height="1" fill="#f23645"/><rect x="1258" y="336" width="1" height="1" fill="#f23645"/><rect x="1261" y="336" width="1" height="1" fill="#f23645"/><rect x="1264" y="336" width="1" height="1" fill="#f23645"/><rect x="1267" y="336" width="1" height="1" fill="#f23645"/><rect x="1270" y="336" width="1" height="1" fill="#f23645"/><rect x="1273" y="336" width="1" height="1" fill="#f23645"/><rect x="1276" y="336" width="1" height="1" fill="#f23645"/><rect x="1279" y="336" width="1" height="1" fill="#f23645"/><rect x="1282" y="336" width="1" height="1" fill="#f23645"/><rect x="1285" y="336" width="1" height="1" fill="#f23645"/><rect x="1288" y="336" width="1" height="1" fill="#f23645"/><rect x="1291" y="336" width="1" height="1" fill="#f23645"/><rect x="1294" y="336" width="1" height="1" fill="#f23645"/><rect x="1297" y="336" width="1" height="1" fill="#f23645"/><rect x="1300" y="336" width="1" height="1" fill="#f23645"/><rect x="1303" y="336" width="1" height="1" fill="#f23645"/><rect x="1306" y="336" width="1" height="1" fill="#f23645"/><rect x="1309" y="336" width="1" height="1" fill="#f23645"/><rect x="1312" y="336" width="1" height="1" fill="#f23645"/><rect x="1315" y="336" width="1" height="1" fill="#f23645"/><rect x="1318" y="336" width="1" height="1" fill="#f23645"/><rect x="1321" y="336" width="1" height="1" fill="#f23645"/><rect x="1324" y="336" width="1" height="1" fill="#f23645"/><rect x="1327" y="336" width="1" height="1" fill="#f23645"/><rect x="1330" y="336" width="1" height="1" fill="#f23645"/><rect x="1333" y="336" width="1" height="1" fill="#f23645"/><rect x="1336" y="336" width="1" height="1" fill="#f23645"/><rect x="1339" y="336" width="1" height="1" fill="#f23645"/><rect x="1342" y="336" width="1" height="1" fill="#f23645"/><rect x="1345" y="336" width="1" height="1" fill="#f23645"/><rect x="1348" y="336" width="1" height="1" fill="#f23645"/><rect x="1351" y="336" width="1" height="1" fill="#f23645"/><rect x="1354" y="336" width="1" height="1" fill="#f23645"/><rect x="1357" y="336" width="1" height="1" fill="#f23645"/><rect x="1360" y="336" width="1" height="1" fill="#f23645"/><rect x="1363" y="336" width="1" height="1" fill="#f23645"/><rect x="1366" y="336" width="1" height="1" fill="#f23645"/><rect x="1369" y="336" width="1" height="1" fill="#f23645"/><rect x="1372" y="336" width="1" height="1" fill="#f23645"/><rect x="1375" y="336" width="1" height="1" fill="#f23645"/><rect x="1378" y="336" width="1" height="1" fill="#f23645"/><rect x="1381" y="336" width="1" height="1" fill="#f23645"/><rect x="1384" y="336" width="1" height="1" fill="#f23645"/><rect x="1387" y="336" width="1" height="1" fill="#f23645"/><rect x="1390" y="336" width="1" height="1" fill="#f23645"/><rect x="1393" y="336" width="1" height="1" fill="#f23645"/><rect x="1396" y="336" width="1" height="1" fill="#f23645"/><rect x="1399" y="336" width="1" height="1" fill="#f23645"/><rect x="1402" y="336" width="1" height="1" fill="#f23645"/><rect x="1405" y="336" width="1" height="1" fill="#f23645"/><rect x="1408" y="336" width="1" height="1" fill="#f23645"/><rect x="1411" y="336" width="1" height="1" fill="#f23645"/><rect x="1414" y="336" width="1" height="1" fill="#f23645"/><rect x="1417" y="336" width="1" height="1" fill="#f23645"/><rect x="1420" y="336" width="1" height="1" fill="#f23645"/><rect x="1423" y="336" width="1" height="1" fill="#f23645"/><rect x="1426" y="336" width="1" height="1" fill="#f23645"/><rect x="1429" y="336" width="1" height="1" fill="#f23645"/><rect x="1432" y="336" width="1" height="1" fill="#f23645"/><rect x="1435" y="336" width="1" height="1" fill="#f23645"/><rect x="1438" y="336" width="1" height="1" fill="#f23645"/><rect x="1441" y="336" width="1" height="1" fill="#f23645"/><rect x="1444" y="336" width="1" height="1" fill="#f23645"/><rect x="1447" y="336" width="1" height="1" fill="#f23645"/><rect x="1450" y="336" width="1" height="1" fill="#f23645"/><rect x="1453" y="336" width="1" height="1" fill="#f23645"/><rect x="1456" y="336" width="1" height="1" fill="#f23645"/><rect x="1459" y="336" width="1" height="1" fill="#f23645"/><rect x="1462" y="336" width="1" height="1" fill="#f23645"/><rect x="1465" y="336" width="1" height="1" fill="#f23645"/><rect x="1468" y="336" width="1" height="1" fill="#f23645"/><rect x="1471" y="336" width="1" height="1" fill="#f23645"/><rect x="1474" y="336" width="1" height="1" fill="#f23645"/><rect x="1477" y="336" width="1" height="1" fill="#f23645"/><rect x="1480" y="336" width="1" height="1" fill="#f23645"/><rect x="1483" y="336" width="1" height="1" fill="#f23645"/><rect x="1486" y="336" width="1" height="1" fill="#f23645"/><rect x="1489" y="336" width="1" height="1" fill="#f23645"/><rect x="1492" y="336" width="1" height="1" fill="#f23645"/><rect x="1495" y="336" width="1" height="1" fill="#f23645"/><rect x="1498" y="336" width="1" height="1" fill="#f23645"/><rect x="1501" y="336" width="1" height="1" fill="#f23645"/><rect x="1504" y="336" width="1" height="1" fill="#f23645"/><rect x="1507" y="336" width="1" height="1" fill="#f23645"/><rect x="1510" y="336" width="1" height="1" fill="#f23645"/><rect x="1513" y="336" width="1" height="1" fill="#f23645"/><rect x="1516" y="336" width="1" height="1" fill="#f23645"/><rect x="1519" y="336" width="1" height="1" fill="#f23645"/><rect x="1522" y="336" width="1" height="1" fill="#f23645"/><rect x="1525" y="336" width="1" height="1" fill="#f23645"/><rect x="1528" y="336" width="1" height="1" fill="#f23645"/><rect x="1531" y="336" width="1" height="1" fill="#f23645"/><rect x="1534" y="336" width="1" height="1" fill="#f23645"/><rect x="1537" y="336" width="1" height="1" fill="#f23645"/><rect x="1540" y="336" width="1" height="1" fill="#f23645"/><rect x="1543" y="336" width="1" height="1" fill="#f23645"/><rect x="1546" y="336" width="1" height="1" fill="#f23645"/><rect x="1549" y="336" width="1" height="1" fill="#f23645"/><rect x="1552" y="336" width="1" height="1" fill="#f23645"/><rect x="1555" y="336" width="1" height="1" fill="#f23645"/><rect x="1558" y="336" width="1" height="1" fill="#f23645"/><rect x="1561" y="336" width="1" height="1" fill="#f23645"/><rect x="1564" y="336" width="1" height="1" fill="#f23645"/><rect x="1567" y="336" width="1" height="1" fill="#f23645"/><rect x="1570" y="336" width="1" height="1" fill="#f23645"/><rect x="1573" y="336" width="1" height="1" fill="#f23645"/><rect x="1576" y="336" width="1" height="1" fill="#f23645"/><rect x="1579" y="336" width="1" height="1" fill="#f23645"/><rect x="1582" y="336" width="1" height="1" fill="#f23645"/><rect x="1585" y="336" width="1" height="1" fill="#f23645"/><rect x="1588" y="336" width="1" height="1" fill="#f23645"/><rect x="1591" y="336" width="1" height="1" fill="#f23645"/><rect x="1594" y="336" width="1" height="1" fill="#f23645"/><rect x="1597" y="336" width="1" height="1" fill="#f23645"/><rect x="1600" y="336" width="1" height="1" fill="#f23645"/><rect x="1603" y="336" width="1" height="1" fill="#f23645"/><rect x="1606" y="336" width="1" height="1" fill="#f23645"/><rect x="1609" y="336" width="1" height="1" fill="#f23645"/><rect x="1612" y="336" width="1" height="1" fill="#f23645"/><rect x="1615" y="336" width="1" height="1" fill="#f23645"/><rect x="1618" y="336" width="1" height="1" fill="#f23645"/><rect x="1621" y="336" width="1" height="1" fill="#f23645"/><rect x="1624" y="336" width="1" height="1" fill="#f23645"/><rect x="1627" y="336" width="1" height="1" fill="#f23645"/><rect x="1630" y="336" width="1" height="1" fill="#f23645"/><rect x="1633" y="336" width="1" height="1" fill="#f23645"/><rect x="1636" y="336" width="1" height="1" fill="#f23645"/><rect x="1639" y="336" width="1" height="1" fill="#f23645"/><rect x="1642" y="336" width="1" height="1" fill="#f23645"/><rect x="1645" y="336" width="1" height="1" fill="#f23645"/><rect x="1648" y="336" width="1" height="1" fill="#f23645"/><rect x="1651" y="336" width="1" height="1" fill="#f23645"/><rect x="1654" y="336" width="1" height="1" fill="#f23645"/><rect x="1657" y="336" width="1" height="1" fill="#f23645"/><rect x="1660" y="336" width="1" height="1" fill="#f23645"/><rect x="1663" y="336" width="1" height="1" fill="#f23645"/><rect x="1666" y="336" width="1" height="1" fill="#f23645"/></g>
</svg>
<div id="usd"></div>
<div id="plabel"></div>
<div id="txt">
<div class="t" style="left:15.85px;top:14.75px;letter-spacing:-0.025px;color:#000;">dominic_doellel</div>
<div class="t" style="left:155.10px;top:14.75px;letter-spacing:-0.090px;color:#000;">created</div>
<div class="t" style="left:226.14px;top:14.75px;letter-spacing:0.556px;color:#000;">with</div>
<div class="t" style="left:268.93px;top:14.75px;transform:scaleX(0.9594);color:#000;">TradingView.com,</div>
<div class="t" style="left:421.77px;top:14.75px;transform:scaleX(0.8974);color:#000;">Dec</div>
<div class="t" style="left:461.38px;top:14.75px;transform:scaleX(0.8885);color:#000;">12,</div>
<div class="t" style="left:491.91px;top:14.75px;transform:scaleX(0.8930);color:#000;">2025</div>
<div class="t" style="left:537.22px;top:14.75px;transform:scaleX(0.9023);color:#000;">10:12</div>
<div class="t" style="left:587.77px;top:14.75px;transform:scaleX(0.8702);color:#000;">UTC</div>
<div class="t" style="left:28.61px;top:57.75px;transform:scaleX(0.8008);">XRP</div>
<div class="t" style="left:68.04px;top:57.75px;">/</div>
<div class="t" style="left:81.48px;top:57.75px;transform:scaleX(0.9089);">U.S.</div>
<div class="t" style="left:122.04px;top:57.75px;letter-spacing:-0.191px;">Dollar</div>
<div class="t" style="left:191.05px;top:57.75px;transform:scaleX(0.9053);">1M</div>
<div class="t" style="left:231.53px;top:57.75px;letter-spacing:-0.239px;">Bitstamp</div>
<div class="t" style="left:316.69px;top:57.75px;transform:scaleX(0.9141);">O</div>
<div class="t" style="left:330.03px;top:57.75px;transform:scaleX(0.9398);color:#f23645;">2.15483</div>
<div class="t" style="left:406.77px;top:57.75px;">H</div>
<div class="t" style="left:419.33px;top:57.75px;transform:scaleX(0.9399);color:#f23645;">2.21947</div>
<div class="t" style="left:496.34px;top:57.75px;transform:scaleX(0.9230);">L</div>
<div class="t" style="left:506.98px;top:57.75px;transform:scaleX(0.9273);color:#f23645;">1.97000</div>
<div class="t" style="left:582.98px;top:57.75px;transform:scaleX(0.8467);">C</div>
<div class="t" style="left:594.70px;top:57.75px;transform:scaleX(0.9328);color:#f23645;">2.03724</div>
<div class="t" style="left:671.90px;top:57.75px;transform:scaleX(0.9350);color:#f23645;">−0.11759</div>
<div class="t" style="left:753.41px;top:57.75px;transform:scaleX(0.8937);color:#f23645;">(−5.46%)</div>
<div class="t" style="left:1685.42px;top:58.75px;transform:scaleX(0.8143);">USD</div>
<div class="t" style="left:1680.13px;top:120.75px;transform:scaleX(0.9525);">3.50000</div>
<div class="t" style="left:1680.13px;top:190.75px;transform:scaleX(0.9525);">3.00000</div>
<div class="t" style="left:1679.46px;top:261.75px;transform:scaleX(0.9522);">2.50000</div>
<div class="t" style="left:1680.22px;top:402.75px;transform:scaleX(0.9531);">1.50000</div>
<div class="t" style="left:1680.22px;top:473.75px;transform:scaleX(0.9531);">1.00000</div>
<div class="t" style="left:1680.11px;top:544.75px;transform:scaleX(0.9527);">0.50000</div>
<div class="t" style="left:1680.11px;top:614.75px;transform:scaleX(0.9527);">0.00000</div>
<div class="t w1" style="left:1679.91px;top:327.75px;transform:scaleX(0.9487);color:#fff;">2.03724</div>
<div class="t" style="left:1679.46px;top:350.75px;letter-spacing:0.388px;font-size:18px;color:#ffecee;">19d 14h</div>
<div class="t sb" style="left:73.76px;top:689.75px;letter-spacing:0.629px;font-size:18.5px;">2014</div>
<div class="t sb" style="left:196.55px;top:689.75px;letter-spacing:0.770px;font-size:18.5px;">2015</div>
<div class="t sb" style="left:319.36px;top:689.75px;letter-spacing:0.724px;font-size:18.5px;">2016</div>
<div class="t sb" style="left:441.76px;top:689.75px;letter-spacing:0.953px;font-size:18.5px;">2017</div>
<div class="t sb" style="left:564.81px;top:689.75px;letter-spacing:0.864px;font-size:18.5px;">2018</div>
<div class="t sb" style="left:687.66px;top:689.75px;letter-spacing:0.822px;font-size:18.5px;">2019</div>
<div class="t sb" style="left:810.31px;top:689.75px;letter-spacing:0.818px;font-size:18.5px;">2020</div>
<div class="t sb" style="left:933.11px;top:689.75px;letter-spacing:0.864px;font-size:18.5px;">2021</div>
<div class="t sb" style="left:1056.06px;top:689.75px;letter-spacing:0.770px;font-size:18.5px;">2022</div>
<div class="t sb" style="left:1178.86px;top:689.75px;letter-spacing:0.766px;font-size:18.5px;">2023</div>
<div class="t sb" style="left:1301.56px;top:689.75px;letter-spacing:0.702px;font-size:18.5px;">2024</div>
<div class="t sb" style="left:1424.06px;top:689.75px;letter-spacing:0.839px;font-size:18.5px;">2025</div>
<div class="t sb" style="left:1546.86px;top:689.75px;letter-spacing:0.959px;font-size:18.5px;">2026</div>
</div>
<div class="dot" style="left:179.7px;top:65.75px"></div><div class="dot" style="left:221.0px;top:65.8px"></div>
<svg width="50" height="40" viewBox="1530 636 50 40" style="position:absolute;left:1530px;top:636px">
<path d="M1545.07 649.81 A15.4 15.4 0 1 1 1547.87 665.65" fill="none" stroke="#9c27b0" stroke-width="2.1" stroke-linecap="round"/>
<path d="M1564.1 647.3 L1553.4 656.35 L1558.9 656.35 L1554.9 663.9 L1565.7 654.5 L1560.5 654.5 Z" fill="#9c27b0" stroke="#9c27b0" stroke-width="0.7" stroke-linejoin="round"/>
<path d="M1543.05 653.9 Q1544.3999999999999 659.6999999999999 1550.2 661.05 Q1544.3999999999999 662.4 1543.05 668.1999999999999 Q1541.7 662.4 1535.8999999999999 661.05 Q1541.7 659.6999999999999 1543.05 653.9 Z" fill="#8a63ff" stroke="#8a63ff" stroke-width="0.8" stroke-linejoin="round"/>
</svg>
<svg width="50" height="26" viewBox="19 753 50 26" style="position:absolute;left:19px;top:753px">
<path d="M19.1 754.1 H37.9 V777.85 H28.5 V763.5 H19.1 Z" fill="#131313"/>
<circle cx="45.5" cy="759.05" r="4.6" fill="#131313"/>
<path d="M55.35 754.1 H65.95 L56.65 777.85 H46.05 Z" fill="#131313"/>
</svg>
<svg width="200" height="40" viewBox="74 750 200 40" style="position:absolute;left:74px;top:750px">
<defs><clipPath id="rc0"><rect x="60" y="740" width="62.0" height="60"/></clipPath><clipPath id="rc1"><rect x="60" y="740" width="82.55000000000001" height="60"/></clipPath><clipPath id="rc2"><rect x="60" y="740" width="129.25" height="60"/></clipPath><clipPath id="wclip"><rect x="238" y="761.1" width="30" height="16.850000000000044"/></clipPath></defs>
<path d="M76.9 756.4 L93.85 756.4" fill="none" stroke="#131313" stroke-width="4.7"/><path d="M85.4 754.05 L85.4 777.95" fill="none" stroke="#131313" stroke-width="4.9"/><path d="M96.4 761.0 L96.4 777.95" fill="none" stroke="#131313" stroke-width="4.8"/><path d="M96.4 771 C96.4 765.6 99.2 763.2 103.9 763.3" fill="none" stroke="#131313" stroke-width="4.7" /><circle cx="113.75" cy="769.35" r="6.85" fill="none" stroke="#131313" stroke-width="4.5" clip-path="url(#rc0)"/><path d="M119.6 761.0 L119.6 777.95" fill="none" stroke="#131313" stroke-width="4.8"/><circle cx="134.27" cy="769.35" r="6.85" fill="none" stroke="#131313" stroke-width="4.5" clip-path="url(#rc1)"/><path d="M140.15 754.05 L140.15 777.95" fill="none" stroke="#131313" stroke-width="4.8"/><path d="M148.5 761.0 L148.5 777.95" fill="none" stroke="#131313" stroke-width="4.8"/><circle cx="148.3" cy="756.45" r="3.1" fill="#131313"/><path d="M157.6 761.0 L157.6 777.95" fill="none" stroke="#131313" stroke-width="4.8"/><path d="M157.6 771 C157.6 765.8 159.4 762.75 162.4 762.75 C165.4 762.75 166.6 765.4 166.6 769.5 V777.95" fill="none" stroke="#131313" stroke-width="4.9" /><circle cx="180.8" cy="769.1" r="6.9" fill="none" stroke="#131313" stroke-width="4.5" clip-path="url(#rc2)"/><path d="M186.85 761 V777.2 C186.85 781.4 184.2 783.1 180.6 783.1 C177.6 783.1 175.3 782.1 173.4 780.2" fill="none" stroke="#131313" stroke-width="4.8" /><path d="M189 754.05 L194.8 754.05 L201 769.6 L207.2 754.05 L213 754.05 L203.45 777.95 L198.55 777.95 Z" fill="#131313"/><path d="M216.55 761.0 L216.55 777.95" fill="none" stroke="#131313" stroke-width="4.9"/><circle cx="216.6" cy="756.45" r="3.15" fill="#131313"/><path d="M237.2 769.5 A6.75 6.75 0 1 0 236.46 772.26" fill="none" stroke="#131313" stroke-width="4.8" /><path d="M224.5 769.5 L238.0 769.5" fill="none" stroke="#131313" stroke-width="3.9"/><g clip-path="url(#wclip)"><path d="M241.9 760.5 L247.6 779.5 L252.9 762.6 L258.2 779.5 L263.9 760.5" fill="none" stroke="#131313" stroke-width="4.7" stroke-linejoin="miter" stroke-miterlimit="10"/></g>
</svg>
</body></html>
